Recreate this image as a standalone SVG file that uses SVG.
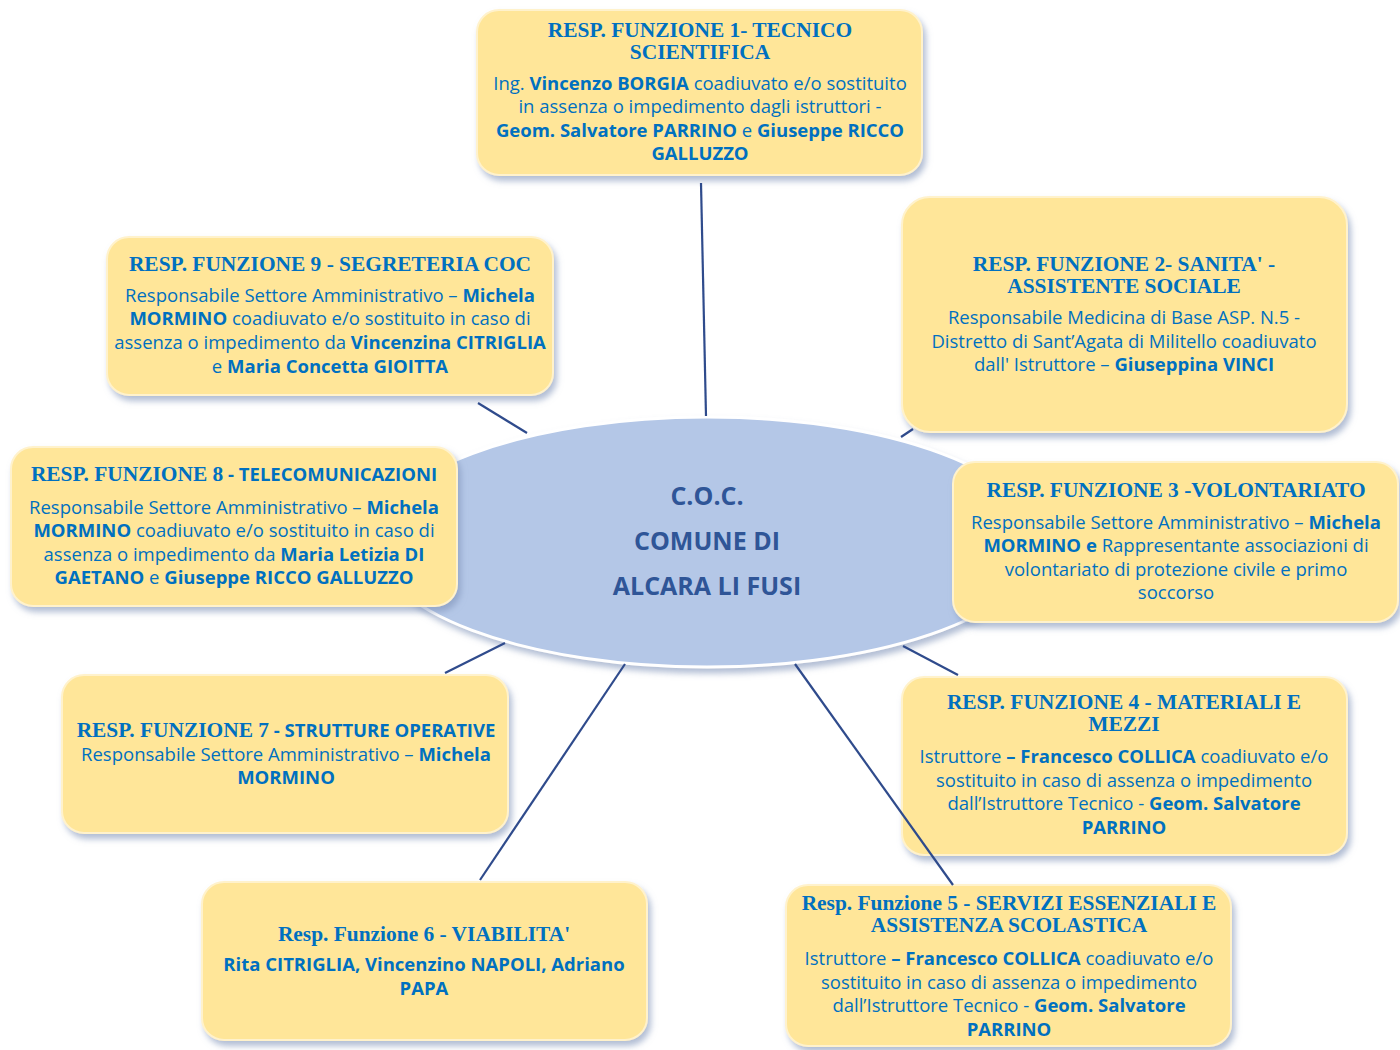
<svg xmlns="http://www.w3.org/2000/svg" width="1400" height="1050" viewBox="0 0 1400 1050">
<style>
.box{fill:#ffe699;stroke:#fff2cc;stroke-width:2;filter:url(#sh)}
.t{font-family:"Liberation Serif",serif;font-weight:bold;font-size:21.4px;fill:#0070c0;text-anchor:middle}
.b{font-family:"Open Sans","Liberation Sans",sans-serif;font-size:18.5px;fill:#0070c0;text-anchor:middle}
.bb{font-weight:bold}
.sb{font-family:"Open Sans","Liberation Sans",sans-serif;font-weight:bold;font-size:18.5px}
.c{font-family:"Open Sans","Liberation Sans",sans-serif;font-weight:bold;font-size:25px;fill:#2f5597;text-anchor:middle}
.ln{stroke:#2f4b8c;stroke-width:2.2;fill:none}
</style>
<defs>
<filter id="sh" x="-10%" y="-10%" width="125%" height="130%">
<feDropShadow dx="3" dy="5" stdDeviation="3" flood-color="#7f93b8" flood-opacity="0.6"/>
</filter>
</defs>
<rect width="1400" height="1050" fill="#ffffff"/>
<g id="center">
<ellipse cx="707" cy="542" rx="332" ry="125" fill="#b4c7e7" stroke="#ffffff" stroke-width="3" filter="url(#sh)"/>
<text class="c" x="707" y="505">C.O.C.</text>
<text class="c" x="707" y="550">COMUNE DI</text>
<text class="c" x="707" y="595">ALCARA LI FUSI</text>
</g>
<g id="f1">
<rect class="box" x="477" y="10" width="445" height="165" rx="22"/>
<text class="t" x="700" y="37">RESP. FUNZIONE 1- TECNICO</text>
<text class="t" x="700" y="59">SCIENTIFICA</text>
<text class="b" x="700" y="90">Ing. <tspan class="bb">Vincenzo BORGIA</tspan> coadiuvato e/o sostituito</text>
<text class="b" x="700" y="113">in assenza o impedimento dagli istruttori -</text>
<text class="b" x="700" y="137"><tspan class="bb">Geom. Salvatore PARRINO</tspan> e <tspan class="bb">Giuseppe RICCO</tspan></text>
<text class="b bb" x="700" y="160">GALLUZZO</text>
</g>
<g id="f9">
<rect class="box" x="107" y="237" width="446" height="158" rx="22"/>
<text class="t" x="330" y="271">RESP. FUNZIONE 9 - SEGRETERIA COC</text>
<text class="b" x="330" y="302">Responsabile Settore Amministrativo – <tspan class="bb">Michela</tspan></text>
<text class="b" x="330" y="325"><tspan class="bb">MORMINO</tspan> coadiuvato e/o sostituito in caso di</text>
<text class="b" x="330" y="349">assenza o impedimento da <tspan class="bb">Vincenzina CITRIGLIA</tspan></text>
<text class="b" x="330" y="373">e <tspan class="bb">Maria Concetta GIOITTA</tspan></text>
</g>
<g id="f2">
<rect class="box" x="902" y="197" width="445" height="235" rx="28"/>
<text class="t" x="1124" y="271">RESP. FUNZIONE 2- SANITA' -</text>
<text class="t" x="1124" y="293">ASSISTENTE SOCIALE</text>
<text class="b" x="1124" y="324">Responsabile Medicina di Base ASP. N.5 -</text>
<text class="b" x="1124" y="348">Distretto di Sant’Agata di Militello coadiuvato</text>
<text class="b" x="1124" y="371">dall' Istruttore – <tspan class="bb">Giuseppina VINCI</tspan></text>
</g>
<g id="f8">
<rect class="box" x="11" y="447" width="446" height="159" rx="22"/>
<text class="t" x="234" y="481">RESP. FUNZIONE 8<tspan class="sb"> - TELECOMUNICAZIONI</tspan></text>
<text class="b" x="234" y="514">Responsabile Settore Amministrativo – <tspan class="bb">Michela</tspan></text>
<text class="b" x="234" y="537"><tspan class="bb">MORMINO</tspan> coadiuvato e/o sostituito in caso di</text>
<text class="b" x="234" y="561">assenza o impedimento da <tspan class="bb">Maria Letizia DI</tspan></text>
<text class="b" x="234" y="584"><tspan class="bb">GAETANO</tspan> e <tspan class="bb">Giuseppe RICCO GALLUZZO</tspan></text>
</g>
<g id="f3">
<rect class="box" x="953" y="462" width="445" height="160" rx="22"/>
<text class="t" x="1176" y="497">RESP. FUNZIONE 3 -VOLONTARIATO</text>
<text class="b" x="1176" y="529">Responsabile Settore Amministrativo – <tspan class="bb">Michela</tspan></text>
<text class="b" x="1176" y="552"><tspan class="bb">MORMINO  e</tspan> Rappresentante associazioni di</text>
<text class="b" x="1176" y="576">volontariato di protezione civile e primo</text>
<text class="b" x="1176" y="599">soccorso</text>
</g>
<g id="f7">
<rect class="box" x="62" y="675" width="446" height="158" rx="22"/>
<text class="t" x="286" y="737">RESP. FUNZIONE 7<tspan class="sb"> - STRUTTURE OPERATIVE</tspan></text>
<text class="b" x="286" y="761">Responsabile Settore Amministrativo – <tspan class="bb">Michela</tspan></text>
<text class="b bb" x="286" y="784">MORMINO</text>
</g>
<g id="f4">
<rect class="box" x="902" y="677" width="445" height="178" rx="22"/>
<text class="t" x="1124" y="709">RESP. FUNZIONE 4 - MATERIALI E</text>
<text class="t" x="1124" y="731">MEZZI</text>
<text class="b" x="1124" y="763">Istruttore <tspan class="bb">– Francesco COLLICA</tspan> coadiuvato e/o</text>
<text class="b" x="1124" y="787">sostituito in caso di assenza o impedimento</text>
<text class="b" x="1124" y="810">dall’Istruttore Tecnico - <tspan class="bb">Geom. Salvatore</tspan></text>
<text class="b bb" x="1124" y="834">PARRINO</text>
</g>
<g id="f6">
<rect class="box" x="202" y="882" width="445" height="158" rx="22"/>
<text class="t" x="424" y="941">Resp. Funzione 6  - VIABILITA'</text>
<text class="b bb" x="424" y="971">Rita CITRIGLIA, Vincenzino NAPOLI, Adriano</text>
<text class="b bb" x="424" y="995">PAPA</text>
</g>
<g id="f5">
<rect class="box" x="786" y="885" width="445" height="161" rx="22"/>
<text class="t" x="1009" y="910">Resp. Funzione 5 - SERVIZI ESSENZIALI E</text>
<text class="t" x="1009" y="932">ASSISTENZA SCOLASTICA</text>
<text class="b" x="1009" y="965">Istruttore <tspan class="bb">– Francesco COLLICA</tspan> coadiuvato e/o</text>
<text class="b" x="1009" y="989">sostituito in caso di assenza o impedimento</text>
<text class="b" x="1009" y="1012">dall’Istruttore Tecnico - <tspan class="bb">Geom. Salvatore</tspan></text>
<text class="b bb" x="1009" y="1036">PARRINO</text>
</g>
<g id="connectors">
<line class="ln" x1="701" y1="183" x2="706" y2="416"/>
<line class="ln" x1="478" y1="403" x2="527" y2="433"/>
<line class="ln" x1="913" y1="429" x2="901" y2="437"/>
<line class="ln" x1="445" y1="673" x2="505" y2="643"/>
<line class="ln" x1="480" y1="880" x2="625" y2="664"/>
<line class="ln" x1="953" y1="885" x2="795" y2="664"/>
<line class="ln" x1="958" y1="675" x2="903" y2="646"/>
</g>
</svg>
